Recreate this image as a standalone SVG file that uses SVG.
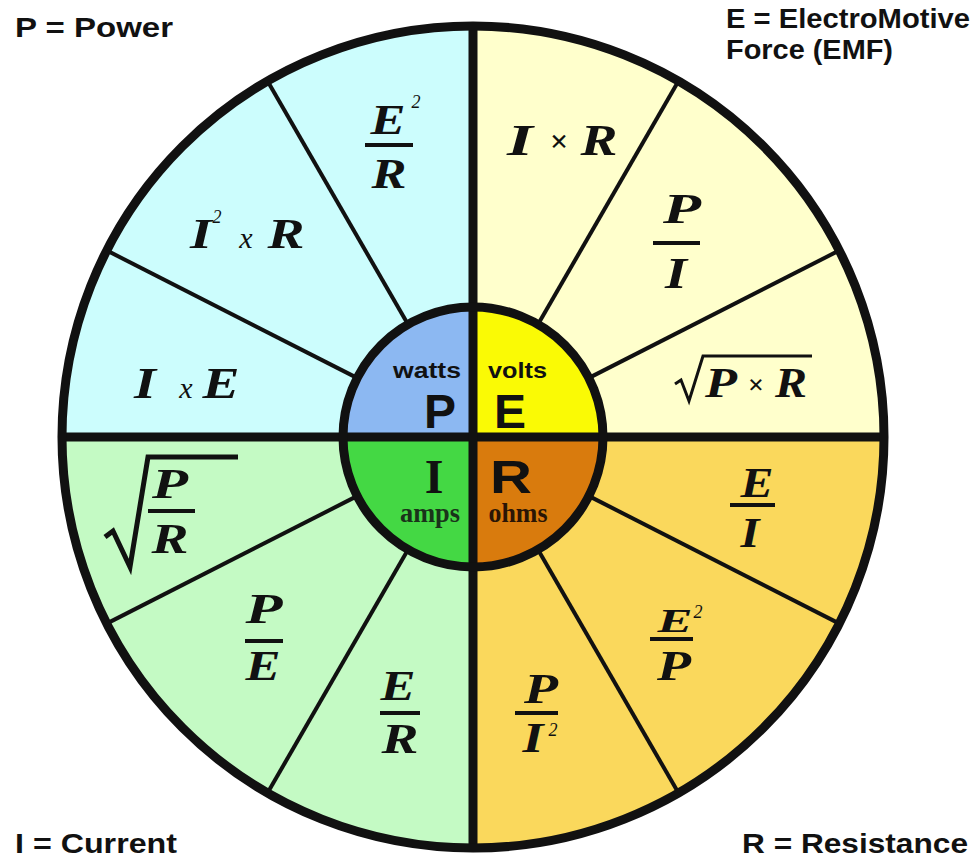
<svg xmlns="http://www.w3.org/2000/svg" width="978" height="859" viewBox="0 0 978 859">
<style>
.corner{font-family:"Liberation Sans",Arial,sans-serif;font-weight:bold;font-size:28px;fill:#111}
.unit{font-family:"Liberation Sans",Arial,sans-serif;font-weight:bold;font-size:22px;fill:#111}
.big{font-family:"Liberation Sans",Arial,sans-serif;font-weight:bold;font-size:48px;fill:#111;text-anchor:middle}
.sbig{font-family:"Liberation Serif","Times New Roman",serif;font-weight:bold;font-size:48px;fill:#111;text-anchor:middle}
.sunit{font-family:"Liberation Serif","Times New Roman",serif;font-weight:bold;font-size:27px;text-anchor:middle}
.f{font-family:"Liberation Serif","Times New Roman",serif;font-weight:bold;font-style:italic;font-size:42px;fill:#111;text-anchor:middle}
.x{font-family:"Liberation Serif","Times New Roman",serif;font-style:italic;font-size:30px;fill:#111;text-anchor:middle}
.mul{font-family:"Liberation Serif","Times New Roman",serif;font-weight:bold;font-size:32px;fill:#111;text-anchor:middle}
.sup{font-family:"Liberation Serif","Times New Roman",serif;font-style:italic;font-size:18px;fill:#111;text-anchor:middle}
.bar{stroke:#111;stroke-width:4}
.rad{fill:none;stroke:#111;stroke-width:4;stroke-linejoin:miter}
.spoke{stroke:#111;stroke-width:4}
.main{stroke:#111;stroke-width:9}
</style>
<rect width="978" height="859" fill="#ffffff"/>

<g id="quadrant-power">
<path d="M473,437 L62,437 A411,411 0 0 1 473,26 Z" fill="#ccfdfd"/>
<path d="M473,437 L343,437 A130,130 0 0 1 473,307 Z" fill="#8cb8f2"/>
<text class="unit" x="393" y="378" textLength="68" lengthAdjust="spacingAndGlyphs">watts</text>
<text class="big" x="440" y="428">P</text>
<text class="f" x="388" y="134" textLength="35" lengthAdjust="spacingAndGlyphs">E</text>
<text class="sup" x="416" y="108">2</text>
<line class="bar" x1="365" y1="145" x2="413" y2="145"/>
<text class="f" x="389" y="188" textLength="35" lengthAdjust="spacingAndGlyphs">R</text>
<text class="f" x="201" y="248" textLength="22" lengthAdjust="spacingAndGlyphs">I</text>
<text class="sup" x="217" y="223">2</text>
<text class="x" x="246" y="248">x</text>
<text class="f" x="286" y="248" textLength="37" lengthAdjust="spacingAndGlyphs">R</text>
<text class="f" x="145" y="398" textLength="22" lengthAdjust="spacingAndGlyphs" style="font-size:45px">I</text>
<text class="x" x="186" y="398">x</text>
<text class="f" x="221" y="398" textLength="37" lengthAdjust="spacingAndGlyphs" style="font-size:45px">E</text>
</g>

<g id="quadrant-emf">
<path d="M473,437 L473,26 A411,411 0 0 1 884,437 Z" fill="#ffffcc"/>
<path d="M473,437 L473,307 A130,130 0 0 1 603,437 Z" fill="#fafa05"/>
<text class="unit" x="488" y="378" textLength="59" lengthAdjust="spacingAndGlyphs">volts</text>
<text class="big" x="510" y="428">E</text>
<text class="f" x="520" y="155" textLength="26" lengthAdjust="spacingAndGlyphs" style="font-size:45px">I</text>
<text class="mul" x="559" y="152">×</text>
<text class="f" x="599" y="155" textLength="37" lengthAdjust="spacingAndGlyphs" style="font-size:45px">R</text>
<text class="f" x="682" y="223" textLength="38" lengthAdjust="spacingAndGlyphs">P</text>
<line class="bar" x1="653" y1="243" x2="700" y2="243"/>
<text class="f" x="676" y="288" textLength="22" lengthAdjust="spacingAndGlyphs" style="font-size:45px">I</text>
<path class="rad" style="stroke-width:3" d="M675,384 L681,380 L689,401 L703,356 L812,356"/>
<text class="f" x="721" y="397" textLength="32" lengthAdjust="spacingAndGlyphs">P</text>
<text class="mul" x="756" y="394" style="font-size:28px">×</text>
<text class="f" x="791" y="397" textLength="32" lengthAdjust="spacingAndGlyphs">R</text>
</g>

<g id="quadrant-current">
<path d="M473,437 L473,848 A411,411 0 0 1 62,437 Z" fill="#c4fac4"/>
<path d="M473,437 L473,567 A130,130 0 0 1 343,437 Z" fill="#44d844"/>
<text class="sbig" x="434" y="493">I</text>
<text class="sunit" x="430" y="522" fill="#1a331a" textLength="60" lengthAdjust="spacingAndGlyphs">amps</text>
<path class="rad" style="stroke-width:5" d="M105,537 L113,531 L130,567 L148,457 L238,457"/>
<text class="f" x="170" y="498" textLength="36" lengthAdjust="spacingAndGlyphs">P</text>
<line class="bar" x1="148" y1="511" x2="195" y2="511"/>
<text class="f" x="170" y="553" textLength="37" lengthAdjust="spacingAndGlyphs">R</text>
<text class="f" x="264" y="623" textLength="37" lengthAdjust="spacingAndGlyphs">P</text>
<line class="bar" x1="245" y1="641" x2="283" y2="641"/>
<text class="f" x="263" y="680" textLength="35" lengthAdjust="spacingAndGlyphs">E</text>
<text class="f" x="398" y="700" textLength="35" lengthAdjust="spacingAndGlyphs">E</text>
<line class="bar" x1="380" y1="713" x2="420" y2="713"/>
<text class="f" x="400" y="753" textLength="37" lengthAdjust="spacingAndGlyphs">R</text>
</g>

<g id="quadrant-resistance">
<path d="M473,437 L884,437 A411,411 0 0 1 473,848 Z" fill="#fad85c"/>
<path d="M473,437 L603,437 A130,130 0 0 1 473,567 Z" fill="#d97b0d"/>
<text class="big" x="511" y="493" style="font-size:46px" textLength="42" lengthAdjust="spacingAndGlyphs">R</text>
<text class="sunit" x="518" y="522" fill="#2a1505" textLength="59" lengthAdjust="spacingAndGlyphs">ohms</text>
<text class="f" x="757" y="497" textLength="33" lengthAdjust="spacingAndGlyphs">E</text>
<line class="bar" x1="730" y1="505" x2="775" y2="505"/>
<text class="f" x="750" y="547" textLength="19" lengthAdjust="spacingAndGlyphs">I</text>
<text class="f" x="675" y="632" textLength="35" lengthAdjust="spacingAndGlyphs" style="font-size:34px">E</text>
<text class="sup" x="698" y="618">2</text>
<line class="bar" x1="650" y1="639" x2="693" y2="639"/>
<text class="f" x="674" y="680" textLength="34" lengthAdjust="spacingAndGlyphs">P</text>
<text class="f" x="541" y="703" textLength="34" lengthAdjust="spacingAndGlyphs">P</text>
<line class="bar" x1="515" y1="713" x2="558" y2="713"/>
<text class="f" x="533" y="752" textLength="21" lengthAdjust="spacingAndGlyphs">I</text>
<text class="sup" x="553" y="736">2</text>
</g>

<g id="connectors">
<line class="spoke" x1="354.5" y1="376.6" x2="106.6" y2="250.4"/>
<line class="spoke" x1="406.5" y1="321.8" x2="267.5" y2="81"/>
<line class="spoke" x1="591.5" y1="376.6" x2="839.4" y2="250.4"/>
<line class="spoke" x1="539.5" y1="321.8" x2="678.5" y2="81"/>
<line class="spoke" x1="591.5" y1="497.4" x2="839.4" y2="623.6"/>
<line class="spoke" x1="539.5" y1="552.2" x2="678.5" y2="793"/>
<line class="spoke" x1="354.5" y1="497.4" x2="106.6" y2="623.6"/>
<line class="spoke" x1="406.5" y1="552.2" x2="267.5" y2="793"/>
<line class="main" x1="58" y1="437" x2="888" y2="437"/>
<line class="main" x1="473" y1="22" x2="473" y2="852"/>
<circle cx="473" cy="437" r="130" fill="none" stroke="#111" stroke-width="9"/>
<circle cx="473" cy="437" r="411" fill="none" stroke="#111" stroke-width="9"/>
</g>

<g id="legend">
<text class="corner" x="15" y="37" textLength="158" lengthAdjust="spacingAndGlyphs">P = Power</text>
<text class="corner" x="726" y="28" textLength="244" lengthAdjust="spacingAndGlyphs">E = ElectroMotive</text>
<text class="corner" x="726" y="59" textLength="167" lengthAdjust="spacingAndGlyphs">Force (EMF)</text>
<text class="corner" x="15" y="853" textLength="162" lengthAdjust="spacingAndGlyphs">I = Current</text>
<text class="corner" x="742" y="853" textLength="226" lengthAdjust="spacingAndGlyphs">R = Resistance</text>
</g>
</svg>
